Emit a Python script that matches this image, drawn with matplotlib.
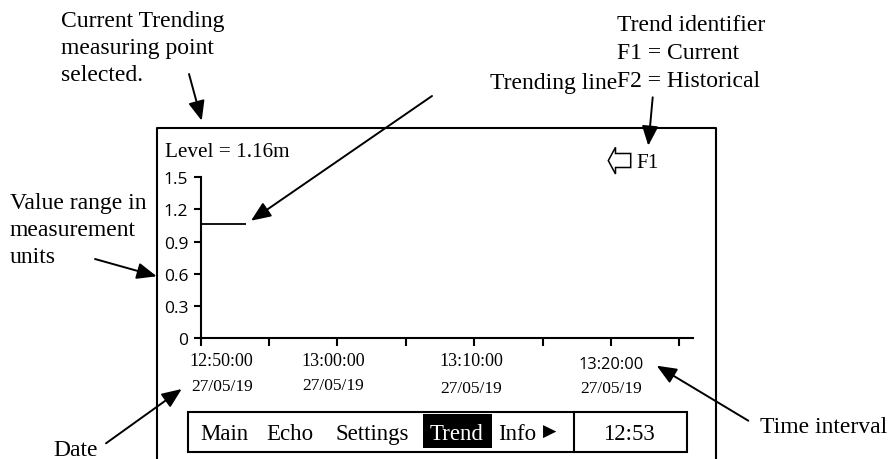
import matplotlib
matplotlib.use('Agg')
import matplotlib.pyplot as plt
from matplotlib.transforms import Affine2D
from matplotlib.lines import Line2D
from matplotlib.patches import Rectangle, Polygon, FancyArrowPatch

# ---------------- data ----------------
trend_minutes = [0.0, 3.3]          # minutes after 12:50:00
trend_level = [1.06, 1.06]          # metres
y_ticks = [0, 0.3, 0.6, 0.9, 1.2, 1.5]
y_tick_labels = ['0', '0.3', '0.6', '0.9', '1.2', '1.5']
x_ticks = [0, 5, 10, 15, 20, 25, 30, 35]
time_label_minutes = [0, 10, 20, 30]
time_labels = ['12:50:00', '13:00:00', '13:10:00', '13:20:00']
date_labels = ['27/05/19', '27/05/19', '27/05/19', '27/05/19']
level_text = 'Level = 1.16m'
menu_items = ['Main', 'Echo', 'Settings', 'Trend', 'Info']
clock_text = '12:53'
trend_id = 'F1'

# ---------------- layout ----------------
W, H = 892, 460
plt.rcParams['font.family'] = ['Liberation Serif', 'DejaVu Sans']
SANS = ['Open Sans', 'DejaVu Sans']

fig = plt.figure(figsize=(W / 100, H / 100), dpi=100)
fig.patch.set_facecolor('white')
# image-pixel transform (origin top-left, y down)
px = Affine2D().scale(1.0 / W, -1.0 / H).translate(0, 1) + fig.transFigure

LW = 1.5
ANN_FS = 17

# outer screen frame (open at the bottom)
fig.add_artist(Line2D([157.3, 157.3, 716, 716], [462, 129.3, 129.3, 462],
                      transform=px, color='black', lw=LW))

# chart axes
ax_left, ax_right, ax_bottom, ax_top = 200.7, 693.0, 339.0, 178.3
ax = fig.add_axes([ax_left / W, (H - ax_bottom) / H,
                   (ax_right - ax_left) / W, (ax_bottom - ax_top) / H])
ax.set_facecolor('none')
ax.plot(trend_minutes, trend_level, color='black', lw=1.3, solid_capstyle='butt')
ax.set_xlim(0, 36)
ax.set_ylim(0, 1.5)
for s in ('top', 'right'):
    ax.spines[s].set_visible(False)
for s in ('left', 'bottom'):
    ax.spines[s].set_linewidth(LW)
ax.set_yticks(y_ticks)
ax.set_yticklabels(y_tick_labels, family=SANS, fontsize=12.5)
ax.set_xticks(x_ticks)
ax.tick_params(axis='y', direction='out', length=5, width=LW, pad=4)
ax.tick_params(axis='x', direction='out', length=6, width=LW, labelbottom=False)

# two-row time/date labels under the axis
dx = [21, -4, -3, 0.5]
time_base = [366, 366, 366, 369]
date_base = [391, 390, 393, 393]
time_fam = [None, None, None, SANS]
for i, m in enumerate(time_label_minutes):
    kw = dict(xy=(m, 0), xycoords=('data', 'axes fraction'),
              textcoords='offset pixels', ha='center', va='baseline',
              annotation_clip=False)
    if time_fam[i] is None:
        ax.annotate(time_labels[i], xytext=(dx[i], -(time_base[i] - ax_bottom)),
                    fontsize=13, **kw)
    else:
        ax.annotate(time_labels[i], xytext=(dx[i], -(time_base[i] - ax_bottom)),
                    fontsize=11.8, family=time_fam[i], **kw)
    ax.annotate(date_labels[i], xytext=(dx[i], -(date_base[i] - ax_bottom)),
                fontsize=12.5, **kw)

# level readout and trend identifier
fig.text(165, 156.7, level_text, transform=px, fontsize=15.3, va='baseline')
fig.add_artist(Polygon([(608.3, 161.6), (615.5, 148.3), (615.5, 154.5),
                        (630.7, 154.5), (630.7, 168.5), (615.5, 168.5),
                        (615.5, 175)], closed=True, transform=px,
                       fill=False, edgecolor='black', lw=1.1, joinstyle='miter'))
fig.text(636.5, 168, trend_id, transform=px, fontsize=15.3, va='baseline')

# menu bar
fig.add_artist(Rectangle((187.7, 412.7), 499, 40, transform=px, fill=False,
                         edgecolor='black', lw=LW))
fig.add_artist(Line2D([574, 574], [412.7, 452.7], transform=px, color='black', lw=LW))
fig.add_artist(Rectangle((422.7, 415), 69, 34.3, transform=px, facecolor='black',
                         edgecolor='none'))
menu_x = [200, 266.7, 335.7, 430, 498]
for name, x in zip(menu_items, menu_x):
    fig.text(x, 440, name, transform=px, fontsize=16.5, va='baseline',
             color='white' if name == 'Trend' else 'black')
fig.text(543, 437, '\u25b6', transform=px, fontsize=12.5, va='baseline',
         family=['DejaVu Sans'])
fig.text(629, 440, clock_text, transform=px, fontsize=16.5, va='baseline', ha='center')

# annotations
def note(lines, x, baselines):
    for s, b in zip(lines, baselines):
        fig.text(x, b, s, transform=px, fontsize=ANN_FS, va='baseline')

def arrow(x0, y0, x1, y1):
    fig.add_artist(FancyArrowPatch(
        (x0, y0), (x1, y1), transform=px,
        arrowstyle='-|>,head_length=0.6,head_width=0.25', mutation_scale=20,
        color='black', lw=1.4, shrinkA=0, shrinkB=0))

note(['Current Trending', 'measuring point', 'selected.'], 61, [27.3, 54.3, 81.3])
arrow(189, 75, 201.7, 121.7)

note(['Trending line'], 490, [89])
arrow(432, 97, 251, 221.7)

note(['Trend identifier', 'F1 = Current', 'F2 = Historical'], 617.3, [31, 59.3, 87.3])
arrow(652.7, 98.3, 648.3, 146.7)

note(['Value range in', 'measurement', 'units'], 10, [209.3, 236.5, 263.5])
arrow(95, 260, 156.7, 277.3)

note(['Date'], 53, [456])
arrow(106, 444.3, 181.7, 390)

note(['Time interval'], 760, [433.3])
arrow(748.3, 421.7, 656.7, 366.7)

fig.savefig('out.png', dpi=100, facecolor='white')
